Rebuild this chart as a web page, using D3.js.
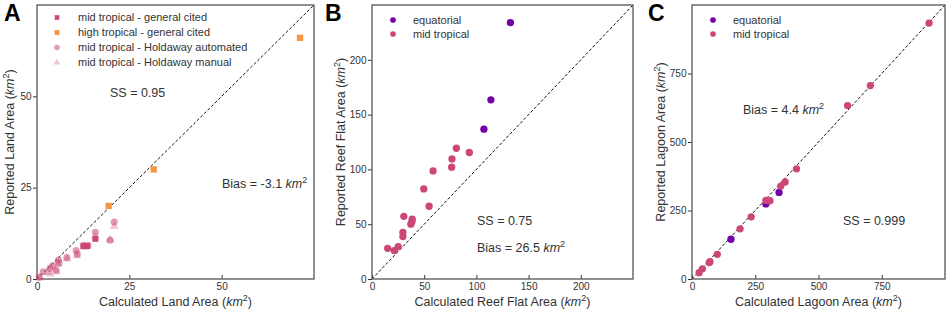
<!DOCTYPE html>
<html>
<head>
<meta charset="utf-8">
<script src="https://cdn.jsdelivr.net/npm/d3@7"></script>
<style>
  body { margin: 0; background: #fff; }
  svg { font-family: "Liberation Sans", Arial, sans-serif; }
</style>
</head>
<body>
<svg id="chart" width="948" height="311"></svg>
<script>
// ---- data: [calculated, reported] ----
const landMidCited = [[12.6, 9.0], [13.6, 9.0], [15.8, 11.0]];
const landHighCited = [[19.4, 20.0], [31.6, 30.0], [71.2, 66.0]];
const landHoldawayAuto = [[20.9, 15.6], [15.8, 12.8], [19.8, 10.6], [12.6, 9.2], [13.8, 9.2], [10.6, 7.8],
  [10.9, 6.8], [8.1, 5.9], [5.8, 5.2], [5.9, 4.4], [5.2, 2.4], [3.5, 2.9], [4.2, 3.6], [1.7, 2.0], [0.6, 0.5]];
const landHoldawayManual = [[20.9, 14.4], [15.8, 11.6], [19.8, 10.8], [12.8, 8.8], [10.8, 6.4], [8.1, 5.5],
  [5.8, 4.0], [5.2, 2.0], [3.5, 1.4], [3.0, 1.8], [0.8, 0.3]];

const flatEquatorial = [[132.6, 234], [113.9, 163.5], [107.2, 136.7]];
const flatMid = [[80.8, 119.3], [93.2, 115.4], [76.6, 109.6], [76.3, 102], [58.5, 98.6], [49.6, 82.2],
  [54.7, 66.4], [30.5, 57.2], [38.5, 54.5], [38.3, 52.4], [37.2, 50], [29.6, 42.6], [29.6, 38.7],
  [15, 28], [21.3, 25.9], [25.1, 29.5]];

const lagoonEquatorial = [[154, 145], [292, 274], [344, 316]];
const lagoonMid = [[937, 934], [705, 706], [615, 633], [413, 402], [368, 354], [351, 339], [308, 286],
  [292, 287], [234, 227], [190, 183], [100, 90], [71, 63], [68, 60], [41, 37], [28, 23]];

const ticksA = [0, 25, 50];
const ticksB = [0, 50, 100, 150, 200];
const ticksC = [0, 250, 500, 750];

const colors = { equatorial: "#7201a8", mid: "#cc4778", high: "#f89540" };
const textColor = "#333";

const svg = d3.select("#chart");

function km2(sel, before) {
  sel.append("tspan").text(before);
  sel.append("tspan").attr("font-style", "italic").text("km");
  sel.append("tspan").attr("dy", -5).attr("font-size", "9px").text("2");
}

function drawPanel(p) {
  const x = d3.scaleLinear().domain([0, p.max]).range([p.left, p.right]);
  const y = d3.scaleLinear().domain([0, p.max]).range([p.bottom, p.top]);
  const g = svg.append("g");

  // identity line
  g.append("line")
    .attr("x1", x(0)).attr("y1", y(0)).attr("x2", x(p.max)).attr("y2", y(p.max))
    .attr("stroke", "#111").attr("stroke-width", 1).attr("stroke-dasharray", "3,2");

  // axes: x ticks point in, y ticks point out
  const xAxis = g.append("g").attr("transform", `translate(0,${p.bottom})`)
    .call(d3.axisBottom(x).tickValues(p.ticks).tickSizeInner(-4).tickSizeOuter(0).tickPadding(3.5));
  const yAxis = g.append("g").attr("transform", `translate(${p.left},0)`)
    .call(d3.axisLeft(y).tickValues(p.ticks).tickSizeInner(4).tickSizeOuter(0).tickPadding(1.5));
  [xAxis, yAxis].forEach(a => {
    a.select(".domain").remove();
    a.selectAll(".tick line").attr("stroke", "#333");
    a.selectAll(".tick text").attr("fill", textColor).attr("font-size", "10px")
      .attr("font-family", "Liberation Sans, Arial, sans-serif");
  });

  // frame
  g.append("rect")
    .attr("x", p.left).attr("y", p.top).attr("width", p.right - p.left).attr("height", p.bottom - p.top)
    .attr("fill", "none").attr("stroke", "#555").attr("stroke-width", 1.3);

  // points
  p.series.forEach(s => {
    const sym = d3.symbol().type(s.shape).size(s.size);
    g.append("g").selectAll("path").data(s.data).join("path")
      .attr("transform", d => `translate(${x(d[0])},${y(d[1])})`)
      .attr("d", sym)
      .attr("fill", s.color).attr("fill-opacity", s.opacity);
  });

  // legend (markers drawn a bit smaller than in the plot)
  p.series.forEach((s, i) => {
    const ly = p.legend.y + i * p.legend.step;
    g.append("path")
      .attr("transform", `translate(${p.legend.x},${ly})`)
      .attr("d", d3.symbol().type(s.shape).size(s.size * 0.6)())
      .attr("fill", s.color).attr("fill-opacity", s.opacity);
    g.append("text").attr("x", p.legend.x + p.legend.gap).attr("y", ly).attr("dy", "0.35em")
      .attr("font-size", "11px").attr("fill", textColor).text(s.name);
  });

  // axis labels
  g.append("text").attr("x", (p.left + p.right) / 2).attr("y", 306)
    .attr("text-anchor", "middle").attr("font-size", "12.5px").attr("fill", textColor)
    .call(km2, `Calculated ${p.what} Area (`)
    .append("tspan").attr("dy", 5).text(")");
  g.append("text")
    .attr("transform", `translate(${p.ylabelX},${(p.top + p.bottom) / 2}) rotate(-90)`)
    .attr("text-anchor", "middle").attr("font-size", "12.5px").attr("fill", textColor)
    .call(km2, `Reported ${p.what} Area (`)
    .append("tspan").attr("dy", 5).text(")");

  // annotations
  p.notes.forEach(n => {
    const t = g.append("text").attr("x", n.x).attr("y", n.y)
      .attr("font-size", "12.5px").attr("fill", textColor);
    if (n.km) km2(t, n.text); else t.text(n.text);
  });

  // panel letter
  g.append("text").attr("x", p.letterX).attr("y", 21)
    .attr("font-size", "23px").attr("font-weight", "bold").attr("fill", "#000").text(p.letter);
}

drawPanel({
  letter: "A", letterX: 4, what: "Land", max: 75, ticks: ticksA,
  left: 37, right: 314, top: 5, bottom: 279, ylabelX: 14,
  legend: { x: 57, y: 17.5, step: 15, gap: 21 },
  series: [
    { name: "mid tropical - general cited", data: landMidCited, shape: d3.symbolSquare, size: 36, color: colors.mid, opacity: 1 },
    { name: "high tropical - general cited", data: landHighCited, shape: d3.symbolSquare, size: 40, color: colors.high, opacity: 1 },
    { name: "mid tropical - Holdaway automated", data: landHoldawayAuto, shape: d3.symbolCircle, size: 40, color: colors.mid, opacity: 0.55 },
    { name: "mid tropical - Holdaway manual", data: landHoldawayManual, shape: d3.symbolTriangle, size: 36, color: colors.mid, opacity: 0.3 }
  ],
  notes: [
    { x: 110, y: 97, text: "SS = 0.95" },
    { x: 222, y: 188, text: "Bias = -3.1 ", km: true }
  ]
});

drawPanel({
  letter: "B", letterX: 325, what: "Reef Flat", max: 250, ticks: ticksB,
  left: 372, right: 633, top: 5, bottom: 279, ylabelX: 345,
  legend: { x: 393, y: 20, step: 14, gap: 20 },
  series: [
    { name: "equatorial", data: flatEquatorial, shape: d3.symbolCircle, size: 42, color: colors.equatorial, opacity: 1 },
    { name: "mid tropical", data: flatMid, shape: d3.symbolCircle, size: 42, color: colors.mid, opacity: 1 }
  ],
  notes: [
    { x: 477, y: 225, text: "SS = 0.75" },
    { x: 477, y: 252, text: "Bias = 26.5 ", km: true }
  ]
});

drawPanel({
  letter: "C", letterX: 648, what: "Lagoon", max: 1000, ticks: ticksC,
  left: 692, right: 945, top: 5, bottom: 279, ylabelX: 665,
  legend: { x: 713, y: 20, step: 14, gap: 20 },
  series: [
    { name: "equatorial", data: lagoonEquatorial, shape: d3.symbolCircle, size: 42, color: colors.equatorial, opacity: 1 },
    { name: "mid tropical", data: lagoonMid, shape: d3.symbolCircle, size: 42, color: colors.mid, opacity: 1 }
  ],
  notes: [
    { x: 743, y: 114, text: "Bias = 4.4 ", km: true },
    { x: 843, y: 225, text: "SS = 0.999" }
  ]
});
</script>
</body>
</html>
